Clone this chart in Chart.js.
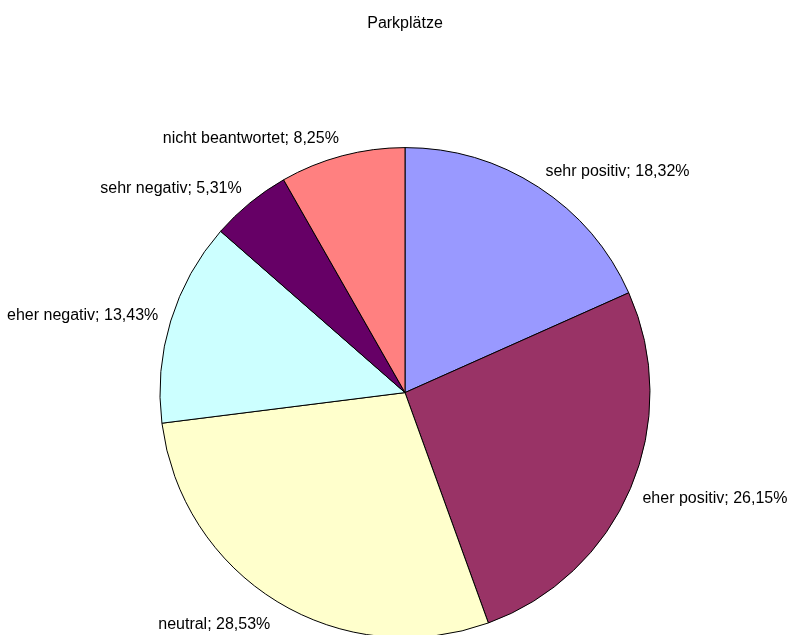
<!DOCTYPE html>
<html>
<head>
<meta charset="utf-8">
<script src="https://cdn.jsdelivr.net/npm/chart.js@4"></script>
<style>
  body { margin: 0; background: #fff; }
  #wrap { width: 787px; height: 635px; }
</style>
</head>
<body>
<div id="wrap"><canvas id="pie"></canvas></div>
<script>
// --- DATA ---
const categories = ['sehr positiv', 'eher positiv', 'neutral', 'eher negativ', 'sehr negativ', 'nicht beantwortet'];
const shares = [18.32, 26.15, 28.53, 13.43, 5.31, 8.25];
const sliceColors = ['#9999FF', '#993366', '#FFFFCC', '#CCFFFF', '#660066', '#FF8080'];

const FONT = '"Liberation Sans", Arial, sans-serif';

// --- LABELS NEXT TO EACH SLICE ---
const sliceLabels = {
    id: 'sliceLabels',
    afterDatasetsDraw(chart) {
        const ctx = chart.ctx;
        const arcs = chart.getDatasetMeta(0).data;
        ctx.save();
        ctx.font = '16px ' + FONT;
        ctx.fillStyle = '#000';
        ctx.textBaseline = 'middle';
        arcs.forEach((arc, i) => {
            const mid = (arc.startAngle + arc.endAngle) / 2;
            const r = arc.outerRadius + 13;
            const px = arc.x + r * Math.cos(mid);
            const py = arc.y + r * Math.sin(mid);
            const s = Math.sin(mid);
            ctx.textAlign = Math.cos(mid) >= 0 ? 'left' : 'right';
            const text = categories[i] + '; ' + shares[i].toFixed(2).replace('.', ',') + '%';
            ctx.fillText(text, px, py + s * (s > 0 ? 14 : 5));
        });
        ctx.restore();
    }
};

new Chart(document.getElementById('pie'), {
    type: 'pie',
    data: {
        labels: categories,
        datasets: [{
            data: shares,
            backgroundColor: sliceColors,
            borderColor: '#000',
            borderWidth: 1,
            radius: 245
        }]
    },
    options: {
        responsive: true,
        maintainAspectRatio: false,
        animation: false,
        layout: { padding: { top: 0, left: 23 } },
        plugins: {
            legend: { display: false },
            tooltip: { enabled: false },
            title: {
                display: true,
                text: 'Parkplätze',
                color: '#000',
                font: { family: FONT, size: 16, weight: 'normal' },
                padding: { top: 14, bottom: 117 }
            }
        }
    },
    plugins: [sliceLabels]
});
</script>
</body>
</html>
